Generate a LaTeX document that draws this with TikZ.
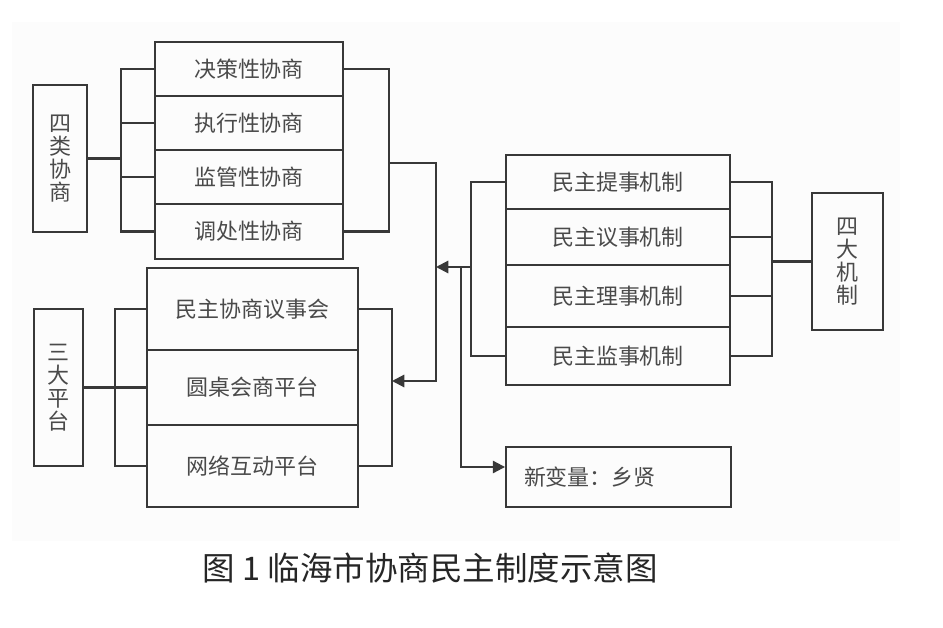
\documentclass[tikz,border=0pt]{standalone}
\usepackage{fontspec}
\usepackage[]{xcolor}
\usepackage{tikz}
\usetikzlibrary{arrows.meta}
\newfontfamily\cjk{Noto Sans CJK SC}
\definecolor{linegray}{HTML}{383838}
\definecolor{textgray}{HTML}{4A4A4A}

\begin{document}
\begin{tikzpicture}[x=0.02cm,y=-0.02cm,
    box/.style={draw=linegray,line width=1.1pt,inner sep=0pt,text=textgray,
        font=\cjk\fontsize{12.5}{13}\selectfont},
    conn/.style={draw=linegray,line width=1.2pt},
    arr/.style={conn,-{Triangle[length=7pt,width=7pt]}}]
    \useasboundingbox (0,0) rectangle (943,628);
    \fill[black!1]    (12,22) rectangle (900,541);
    % four kinds of consultation
    \node[box,minimum width=1.08cm,minimum height=2.94cm,align=center] (slxs) at (60,158.5) {四\\类\\协\\商};
    \node[box,minimum width=3.76cm,minimum height=1.08cm] (xs1) at (249,69)    {决策性协商};
    \node[box,minimum width=3.76cm,minimum height=1.08cm] (xs2) at (249,123)   {执行性协商};
    \node[box,minimum width=3.76cm,minimum height=1.08cm] (xs3) at (249,177)   {监管性协商};
    \node[box,minimum width=3.76cm,minimum height=1.10cm] (xs4) at (249,231.5) {调处性协商};
    \coordinate (xsl) at (121,158.5);
    \coordinate (xsr) at (389,163);
    \coordinate (hub) at (436,163);
    % three platforms
    \node[box,minimum width=0.98cm,minimum height=3.14cm,align=center] (sdpt) at (58.5,387.5) {三\\大\\平\\台};
    \node[box,minimum width=4.22cm,minimum height=1.64cm] (dp1) at (252.5,309)   {民主协商议事会};
    \node[box,minimum width=4.22cm,minimum height=1.50cm] (dp2) at (252.5,387.5) {圆桌会商平台};
    \node[box,minimum width=4.22cm,minimum height=1.64cm] (dp3) at (252.5,466)   {网络互动平台};
    \coordinate (dpl) at (115,387.5);
    \coordinate (dpr) at (392,381);
    % four mechanisms
    \node[box,minimum width=4.48cm,minimum height=1.08cm] (jz1) at (618,182) {民主提事机制};
    \node[box,minimum width=4.48cm,minimum height=1.12cm] (jz2) at (618,237) {民主议事机制};
    \node[box,minimum width=4.48cm,minimum height=1.24cm] (jz3) at (618,296) {民主理事机制};
    \node[box,minimum width=4.48cm,minimum height=1.16cm] (jz4) at (618,356) {民主监事机制};
    \node[box,minimum width=1.42cm,minimum height=2.74cm,align=center] (sdjz) at (847.5,261.5) {四\\大\\机\\制};
    \coordinate (jzl) at (471,267);
    \coordinate (jzr) at (772,261.5);
    \coordinate (xbr) at (461,267);
    % new variable
    \node[box,minimum height=1.2cm,text width=3.78cm,inner xsep=0.36cm,align=left] (xbl) at (618.5,477) {新变量：乡贤};

    \draw[conn]    (slxs.east) -- (xsl);
    \draw[conn]    (xs1.west) -- (xs1.west -| xsl) -- (xs4.west -| xsl) -- (xs4.west);
    \draw[conn]    (xs2.west) -- (xs2.west -| xsl);
    \draw[conn]    (xs3.west) -- (xs3.west -| xsl);
    \draw[conn]    (xs1.east) -| (xsr) |- (xs4.east);
    \draw[arr]     (xsr) -- (hub) |- (dpr);

    \draw[conn]    (sdpt.east) -- (dp2.west);
    \draw[conn]    (dp1.west) -- (dp1.west -| dpl) -- (dp3.west -| dpl) -- (dp3.west);
    \draw[conn]    (dp1.east) -| (dp3.east -| dpr) -- (dp3.east);

    \draw[conn]    (jz1.west) -| (jzl) |- (jz4.west);
    \draw[arr]     (jzl) -- (hub |- jzl);
    \draw[conn]    (jz1.east) -| (jzr) |- (jz4.east);
    \draw[conn]    (jz2.east) -- (jz2.east -| jzr);
    \draw[conn]    (jz3.east) -- (jz3.east -| jzr);
    \draw[conn]    (jzr) -- (sdjz.west);
    \draw[arr]     (xbr) |- ([yshift=0.2cm]xbl.west);

    \node[font=\cjk\fontsize{18.5}{20}\selectfont,text=black!85] (title) at (430,568) {图 1 临海市协商民主制度示意图};
\end{tikzpicture}
\end{document}
